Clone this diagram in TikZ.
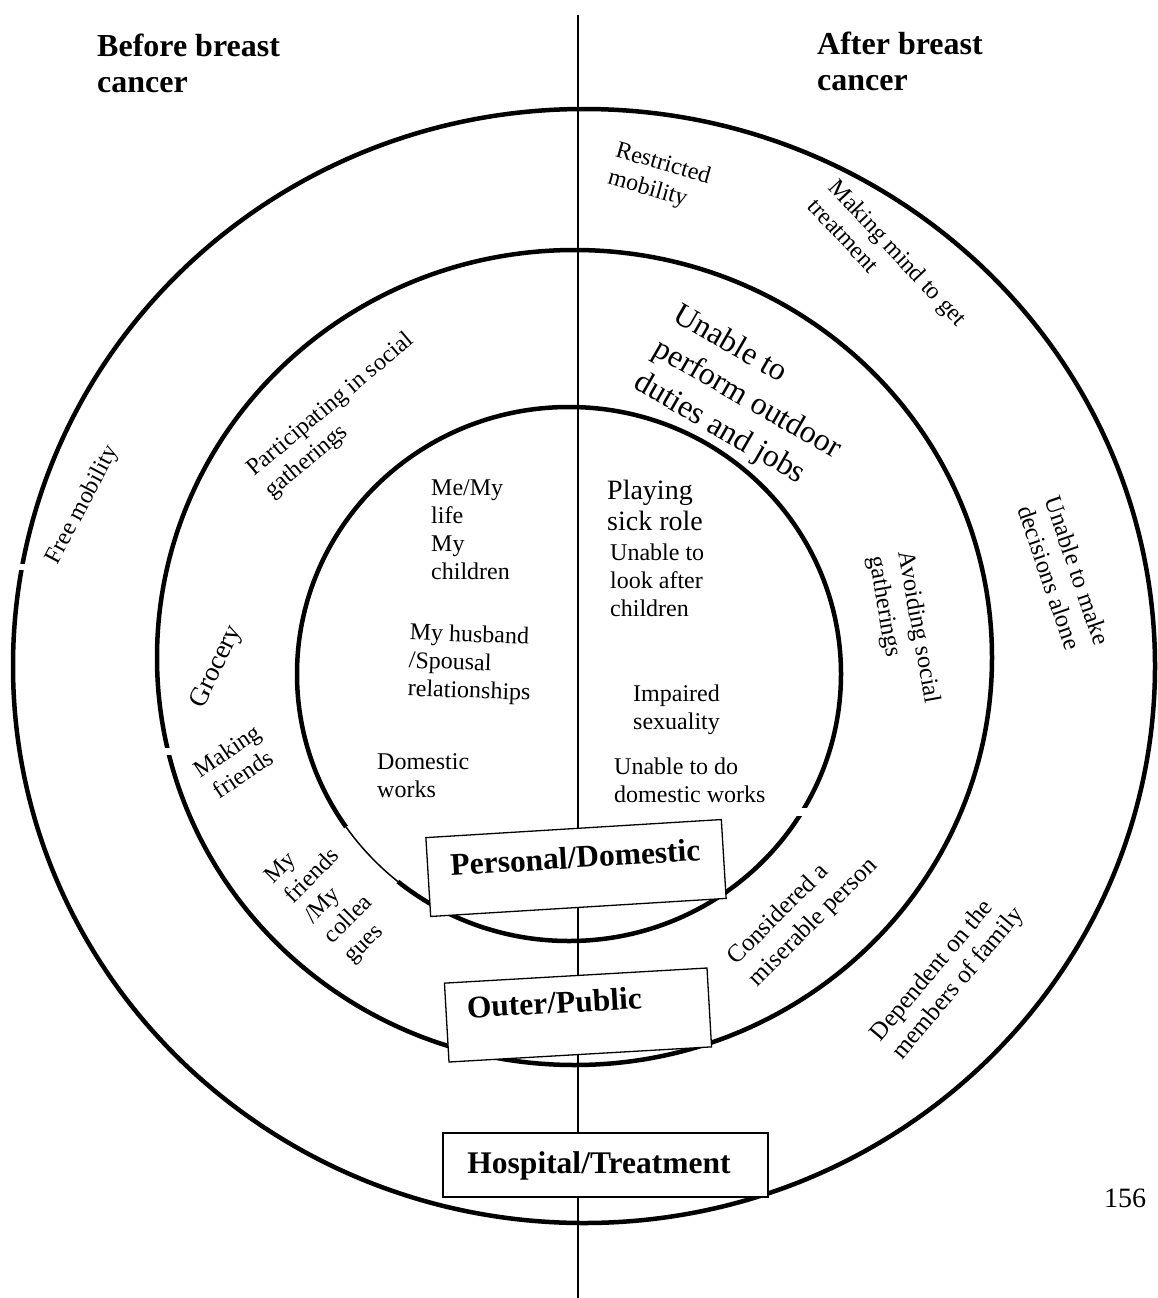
\documentclass[tikz,border=0pt]{standalone}
\usepackage{fontspec}
\setmainfont{Liberation Serif}
\begin{document}
\begin{tikzpicture}[x=1pt,y=-1pt]
\tikzset{
  ring/.style={line width=4.5pt},
  axis/.style={line width=1.5pt},
  gap/.style={fill=white},
  lbl/.style={inner sep=0pt, align=left, font=\fontsize{24}{28}\selectfont},
  lblc/.style={inner sep=0pt, align=center, font=\fontsize{24}{28}\selectfont},
  head/.style={inner sep=0pt, align=left, anchor=north west, font=\fontsize{32}{36}\selectfont\bfseries},
  zone/.style={draw, fill=white, line width=1.3pt, inner sep=0pt, font=\fontsize{31.5}{36}\selectfont\bfseries},
}
\useasboundingbox (0,0) rectangle (1157,1298);
\fill[white] (0,0) rectangle (1157,1298);

% centres
\coordinate (co) at (584,666);
\coordinate (cm) at (574.5,657.5);
\coordinate (ci) at (569,674);
\coordinate (vtop) at (578,15);
\coordinate (vbot) at (578,1298);

% axis
\draw[axis] (vtop) -- (vbot);

% rings
\draw[ring] (co) ellipse [x radius=571pt, y radius=557pt];
\draw[ring] (cm) ellipse [x radius=417.5pt, y radius=407.5pt];
\draw[ring] (ci) ellipse [x radius=272pt, y radius=267pt];

% small breaks in the rings
\fill[gap] (12,564) rectangle (34,569.5);
\fill[gap] (155,748) rectangle (182,755);
\fill[gap] (788,808) rectangle (810,816);
\draw[white, line width=5.5pt] (ci) ++(215:272pt and 267pt) arc[start angle=215, end angle=231, x radius=272pt, y radius=267pt];
\draw[line width=1.5pt] (ci) ++(215:272pt and 267pt) arc[start angle=215, end angle=231, x radius=272pt, y radius=267pt];

% headings
\node[head] (before) at (97,34) {Before breast\\cancer};
\node[head] (after) at (817,32) {After breast\\cancer};

% before side
\node[lbl, rotate=62] (free) at (83,505) {Free mobility};
\node[lbl, rotate=40] (partic) at (340,416) {Participating in social\\gatherings};
\node[lbl, rotate=64, font=\fontsize{27}{30}\selectfont] (grocery) at (217,667) {Grocery};
\node[lblc, rotate=34] (mkfr) at (235,762) {Making\\friends};
\node[lbl, rotate=45] (myfr) at (333,897) {My\\friends\\/My\\collea\\gues};
\node[lbl, anchor=north west] (me) at (431,479) {Me/My\\life\\My\\children};
\node[lbl, anchor=north west, rotate=-2] (husb) at (410,623) {My husband\\/Spousal\\relationships};
\node[lbl, anchor=north west] (dom) at (377,753) {Domestic\\works};

% after side
\node[lbl, anchor=north west, font=\fontsize{28}{31}\selectfont] (sick) at (607,480) {Playing\\sick role};
\node[lbl, anchor=north west] (look) at (610,544) {Unable to\\look after\\children};
\node[lbl, anchor=north west] (sex) at (633,685) {Impaired\\sexuality};
\node[lbl, anchor=north west] (udom) at (614,758) {Unable to do\\domestic works};
\node[lbl, rotate=-30, font=\fontsize{32}{39}\selectfont] (outd) at (747,400) {Unable to\\perform outdoor\\duties and jobs};
\node[lbl, rotate=-16] (restr) at (659,178) {Restricted\\mobility};
\node[lbl, rotate=-47, font=\fontsize{24}{28}\selectfont] (mind) at (888,262) {Making mind to get\\treatment};
\node[lbl, rotate=-80, font=\fontsize{24.5}{30}\selectfont] (avoid) at (903,630) {Avoiding social\\gatherings};
\node[lbl, rotate=-71, font=\fontsize{24.5}{29}\selectfont] (decis) at (1064,575) {Unable to make\\decisions alone};
\node[lbl, rotate=45, font=\fontsize{25}{30}\selectfont] (miser) at (803,912) {Considered a\\miserable person};
\node[lbl, rotate=50, font=\fontsize{25}{28}\selectfont] (depend) at (948,975) {Dependent on the\\members of family};

% zone boxes
\node[zone, rotate=3.5, minimum width=296pt, minimum height=79pt, text height=39.5pt, text depth=39.5pt] (pers) at (576,868) {Personal/Domestic};
\node[zone, rotate=3.3, minimum width=263pt, minimum height=79pt, text height=36.5pt, text depth=42.5pt] (outer) at (578,1015) {Outer/Public\rule{46pt}{0pt}};
\node[zone, minimum width=325pt, minimum height=64pt, text height=40pt, text depth=24pt] (hosp) at (605.5,1165) {Hospital/Treatment\rule{13pt}{0pt}};

% page number
\node[inner sep=0pt, font=\fontsize{28}{32}\selectfont] (page) at (1125,1198) {156};
\end{tikzpicture}
\end{document}
